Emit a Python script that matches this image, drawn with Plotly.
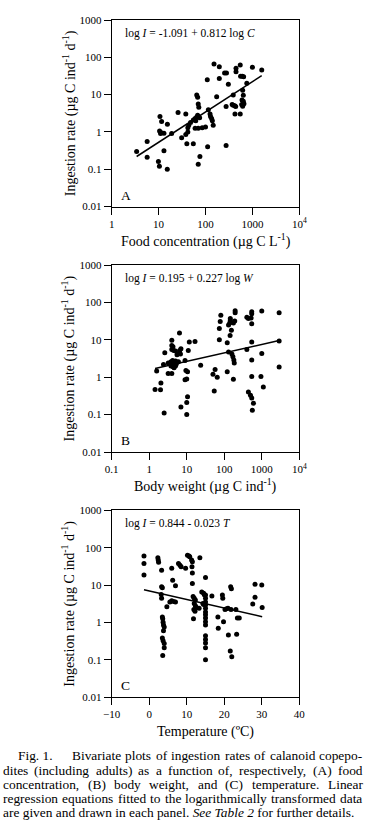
import numpy as np
import plotly.graph_objects as go

# ---------------- data ----------------
# Panel A: food concentration (ug C L-1) vs ingestion rate (ug C ind-1 d-1)
food_conc = [3.4, 5.7, 5.7, 10.7, 11.6, 10.5, 11.5, 13, 11, 15.4, 13, 9.9, 10.4, 15.3,
             19, 26, 31, 38, 38, 42, 40, 42, 44, 48, 55, 55, 60, 65, 70, 62, 68, 75,
             65, 68, 70, 72, 60, 70, 85, 100, 76, 70, 111, 109, 115, 125, 128, 135,
             140, 146, 152, 197, 173, 197, 255, 280, 275, 275, 307, 390, 390, 420,
             440, 370, 447, 447, 550, 560, 610, 650, 425, 550, 600, 640, 660, 620,
             590, 620, 640, 760, 1000, 1580]
ingest_a = [0.30, 0.55, 0.21, 2.6, 1.9, 1.05, 0.95, 0.92, 0.9, 1.6, 0.31, 0.16, 0.12, 0.10,
            0.9, 3.3, 0.7, 3.0, 0.85, 1.0, 0.48, 1.3, 1.5, 1.8, 0.48, 2.1, 2.3, 2.5, 2.6,
            2.0, 2.8, 2.4, 9.7, 8.5, 5.6, 4.6, 1.25, 1.25, 1.3, 1.35, 0.22, 0.135, 0.40,
            25, 3.9, 3.0, 2.6, 2.3, 2.0, 1.5, 66, 56, 8.7, 27, 38, 38, 0.43, 4.8, 19,
            9.7, 5.2, 5.0, 4.8, 5.4, 51, 41, 62, 31, 31, 30, 3.0, 3.0, 7.2, 6.6, 5.7,
            4.9, 5.4, 13, 9.6, 20, 54, 46]

# Panel B: body weight (ug C ind-1)
body_wt = [1.43, 1.58, 2.0, 2.05, 2.5, 2.4, 2.6, 3.2, 4.0, 3.2, 3.8, 4.0, 4.3, 4.6, 5.0,
           4.6, 5.2, 5.6, 4.2, 3.8, 5.0, 6.0, 4.0, 4.0, 4.3, 4.0, 4.5, 5.0, 6.4, 6.5,
           7.0, 6.3, 5.5, 6.8, 9, 9.5, 10.5, 9, 10, 10.5, 10, 7, 10, 11.7, 16.6, 11,
           23.5, 54, 50, 57, 65, 74, 74, 78, 81, 120, 120, 143, 130, 140, 145, 175,
           190, 145, 195, 195, 155, 160, 170, 180, 185, 175, 130, 400, 440, 520, 540,
           540, 540, 400, 540, 540, 540, 440, 500, 540, 600, 560, 1000, 1000, 950,
           1100, 2900, 2900, 2900]
ingest_b = [0.47, 1.47, 0.46, 0.70, 0.11, 2.2, 4.5, 1.25, 1.25, 2.4, 2.6, 2.1, 1.9, 2.3,
            2.0, 1.8, 2.2, 2.5, 2.8, 2.0, 2.7, 2.6, 9.8, 7.0, 6.5, 5.5, 5.2, 5.0, 15.3,
            5.2, 5.8, 4.4, 4.0, 4.2, 2.8, 1.5, 1.4, 0.85, 0.9, 0.30, 0.21, 0.16, 0.10,
            8.7, 9, 5.2, 2.1, 0.43, 1.2, 1.6, 1.0, 10, 20, 31, 45, 8.3, 1.4, 13, 25,
            28, 33, 28, 32, 37, 60, 53, 18, 4.2, 3.5, 2.9, 2.4, 0.88, 4.7, 40, 37, 38,
            56, 50, 27, 5.5, 8.7, 2.9, 1.05, 0.40, 0.33, 0.28, 0.20, 0.13, 59, 4.3,
            1.05, 0.55, 53, 9.3, 1.87]

# Panel C: temperature (deg C)
temperature = [-1.4, -1.4, -1.4, 2.3, 2.4, 2.5, 3.3, 3.3, 3.5, 3.2, 3.3, 3.5, 3.6, 3.7,
               3.8, 4.0, 3.8, 3.5, 3.7, 4.0, 4.0, 3.6, 4.7, 5.5, 6.0, 6.5, 7.0, 6.0,
               6.25, 7.0, 7.8, 8.2, 8.5, 10.2, 10.6, 10.8, 9.7, 11.3, 11.5, 11.4, 11.5,
               11.5, 11.7, 12.0, 12.3, 12.0, 12.3, 12.6, 11.9, 12.2, 11.8, 13.5, 14.0,
               14.5, 14.7, 14.3, 14.5, 13.3, 15, 15, 15, 15, 15, 15, 15, 15, 15, 15, 15,
               15, 15, 15, 15, 15, 16.7, 18.3, 18.4, 19.5, 19.6, 19.8, 20.2, 20.6, 21.0,
               21.1, 21.7, 21.9, 21.8, 21.6, 22.0, 23.1, 23.3, 23.5, 24.0, 27.6, 28.2,
               30.0, 28.2, 30.1]
ingest_c = [60, 38, 18.6, 54, 47, 41, 25, 9, 8.5, 5.6, 4.4, 1.4, 1.25, 1.0, 0.85, 0.75,
            0.6, 0.38, 0.32, 0.27, 0.21, 0.13, 2.6, 3.5, 3.8, 3.6, 3.5, 28, 13.5, 9.5,
            38, 34, 31, 63, 60, 57, 28, 47, 42, 31, 21, 11, 4.9, 4.4, 4.0, 3.2, 2.8,
            2.5, 2.2, 2.0, 1.25, 54, 6.5, 6.0, 5.5, 3.2, 3.0, 2.4, 16, 5.4, 4.4, 3.5,
            2.9, 2.4, 1.9, 1.6, 1.3, 1.04, 0.85, 0.44, 0.35, 0.28, 0.21, 0.10, 5.1,
            1.4, 0.7, 5.4, 4.4, 1.04, 2.2, 2.3, 2.4, 0.46, 9, 8, 2.2, 0.17, 0.12, 2.2,
            0.48, 1.3, 1.3, 3.1, 10.5, 10, 4.7, 2.5]

# regression coefficients (intercept, slope) of log-transformed fits
coef_a = (-1.091, 0.812)   # log I = a + b log C
coef_b = (0.195, 0.227)    # log I = a + b log W
coef_c = (0.844, -0.023)   # log I = a + b T

y_ticks = [0.01, 0.1, 1, 10, 100, 1000]
y_ticktext = ["0.01", "0.1", "1", "10", "100", "1000"]
xa_ticks = [1, 10, 100, 1000, 10000]
xa_ticktext = ["1", "10", "100", "1000", "10<sup>4</sup>"]
xb_ticks = [0.1, 1, 10, 100, 1000, 10000]
xb_ticktext = ["0.1", "1", "10", "100", "1000", "10<sup>4</sup>"]
xc_ticks = [-10, 0, 10, 20, 30, 40]

eq_texts = ["log <i>I</i> = -1.091 + 0.812 log <i>C</i>",
            "log <i>I</i> = 0.195 + 0.227 log <i>W</i>",
            "log <i>I</i> = 0.844 - 0.023 <i>T</i>"]
panel_letters = ["A", "B", "C"]
x_titles = ["Food concentration (\u00b5g C L<sup>-1</sup>)",
            "Body weight (\u00b5g C ind<sup>-1</sup>)",
            "Temperature (\u00baC)"]
y_title = "Ingestion rate (\u00b5g C ind<sup>-1</sup> d<sup>-1</sup>)"

caption_lines = [
    "Bivariate plots of ingestion rates of calanoid copepo-",
    "dites (including adults) as a function of, respectively, (A) food",
    "concentration, (B) body weight, and (C) temperature. Linear",
    "regression equations fitted to the logarithmically transformed data",
    "are given and drawn in each panel. <i>See Table 2</i> for further details.",
]
caption_label = "Fig. 1."

# ---------------- figure ----------------
W, H = 370, 831
FONT = "Liberation Serif"
fig = go.Figure()

def px(x):
    return x / W

def py(y):
    return 1 - y / H

# fitted lines
fa = np.array([min(food_conc), max(food_conc)])
fb = np.array([min(body_wt), max(body_wt)])
fc = np.array([min(temperature), max(temperature)])
lines = [
    (fa, 10 ** (coef_a[0] + coef_a[1] * np.log10(fa))),
    (fb, 10 ** (coef_b[0] + coef_b[1] * np.log10(fb))),
    (fc, 10 ** (coef_c[0] + coef_c[1] * fc)),
]
scat = [(food_conc, ingest_a), (body_wt, ingest_b), (temperature, ingest_c)]

for i in range(3):
    xa = "x" if i == 0 else f"x{i+1}"
    ya = "y" if i == 0 else f"y{i+1}"
    fig.add_trace(go.Scatter(x=scat[i][0], y=scat[i][1], mode="markers",
                             marker=dict(color="black", size=5),
                             xaxis=xa, yaxis=ya, showlegend=False))
    fig.add_trace(go.Scatter(x=lines[i][0], y=lines[i][1], mode="lines",
                             line=dict(color="black", width=1.5),
                             xaxis=xa, yaxis=ya, showlegend=False))

left, right = 111.7, 299.3
panels_y = [(20.0, 206.5), (265.0, 452.0), (510.4, 697.0)]

common = dict(showline=True, linecolor="black", linewidth=1, mirror=True,
              ticks="outside", ticklen=7, tickwidth=1, tickcolor="black",
              showgrid=False, zeroline=False,
              tickfont=dict(family=FONT, size=11, color="black"))

layout = dict(width=W, height=H, margin=dict(l=0, r=0, t=0, b=0, autoexpand=False),
              paper_bgcolor="white", plot_bgcolor="white", showlegend=False)

xspecs = [
    dict(type="log", range=[0, 4], tickvals=xa_ticks, ticktext=xa_ticktext),
    dict(type="log", range=[-1, 4], tickvals=xb_ticks, ticktext=xb_ticktext),
    dict(type="linear", range=[-10, 40], tickvals=xc_ticks),
]
for i in range(3):
    top, bot = panels_y[i]
    xk = "xaxis" if i == 0 else f"xaxis{i+1}"
    yk = "yaxis" if i == 0 else f"yaxis{i+1}"
    yref = "y" if i == 0 else f"y{i+1}"
    xref = "x" if i == 0 else f"x{i+1}"
    layout[xk] = dict(domain=[px(left), px(right)], anchor=yref, **xspecs[i], **common)
    layout[yk] = dict(domain=[py(bot), py(top)], anchor=xref, type="log", range=[-2, 3],
                      tickvals=y_ticks, ticktext=y_ticktext, **common)

annotations = []
x_title_y = [241, 485, 731.5]
for i in range(3):
    top, bot = panels_y[i]
    annotations.append(dict(text=eq_texts[i], x=px(122.5), y=py(top + 13.5),
                            xref="paper", yref="paper", xanchor="left", yanchor="middle",
                            showarrow=False, font=dict(family=FONT, size=11.5, color="black")))
    annotations.append(dict(text=panel_letters[i], x=px(119), y=py(bot - 11.5),
                            xref="paper", yref="paper", xanchor="left", yanchor="middle",
                            showarrow=False, font=dict(family=FONT, size=13.5, color="black")))
    annotations.append(dict(text=x_titles[i], x=px((left + right) / 2), y=py(x_title_y[i]),
                            xref="paper", yref="paper", xanchor="center", yanchor="middle",
                            showarrow=False, font=dict(family=FONT, size=14, color="black")))
    annotations.append(dict(text=y_title, x=px(69), y=py((top + bot) / 2), textangle=-90,
                            xref="paper", yref="paper", xanchor="center", yanchor="middle",
                            showarrow=False, font=dict(family=FONT, size=14, color="black")))

# ---------------- justified caption ----------------
# Times / Liberation Serif advance widths (per 1000 em)
TW = {" ": 250, "(": 333, ")": 333, ",": 250, "-": 333, ".": 250, "A": 722, "B": 667,
      "C": 667, "F": 556, "L": 611, "S": 556, "T": 611}
TW.update({d: 500 for d in "0123456789"})
TW.update(dict(a=444, b=500, c=444, d=500, e=444, f=333, g=500, h=500, i=278, j=278,
               k=500, l=278, m=778, n=500, o=500, p=500, q=500, r=333, s=389, t=278,
               u=500, v=500, w=722, x=500, y=500, z=444))
CAP_SIZE = 13.4

def text_width(s):
    s = s.replace("<i>", "").replace("</i>", "")
    return sum(TW.get(ch, 500) for ch in s) / 1000.0 * CAP_SIZE

cap_font = dict(family=FONT, size=CAP_SIZE, color="black")
cap_y = [755.0, 770.0, 784.3, 798.5, 812.8]
cap_x0 = [72, 3, 3, 3, 3]
cap_x1 = 362.5
justify = [True, True, True, True, False]

def add_word(txt, x, y):
    annotations.append(dict(text=txt, x=px(x), y=py(y), xref="paper", yref="paper",
                            xanchor="left", yanchor="middle", showarrow=False,
                            borderpad=0, borderwidth=0, font=cap_font))

add_word(caption_label, 18, cap_y[0])
for k, line in enumerate(caption_lines):
    if not justify[k]:
        add_word(line, cap_x0[k], cap_y[k])
        continue
    words = line.split(" ")
    widths = [text_width(w) for w in words]
    gap = (cap_x1 - cap_x0[k] - sum(widths)) / (len(words) - 1)
    xx = cap_x0[k]
    for w, wd in zip(words, widths):
        add_word(w, xx, cap_y[k])
        xx += wd + gap

layout["annotations"] = annotations
fig.update_layout(**layout)
fig.write_html("out.html", config={"displayModeBar": False},
               post_script="document.body.style.margin='0px';document.body.style.padding='0px';")
